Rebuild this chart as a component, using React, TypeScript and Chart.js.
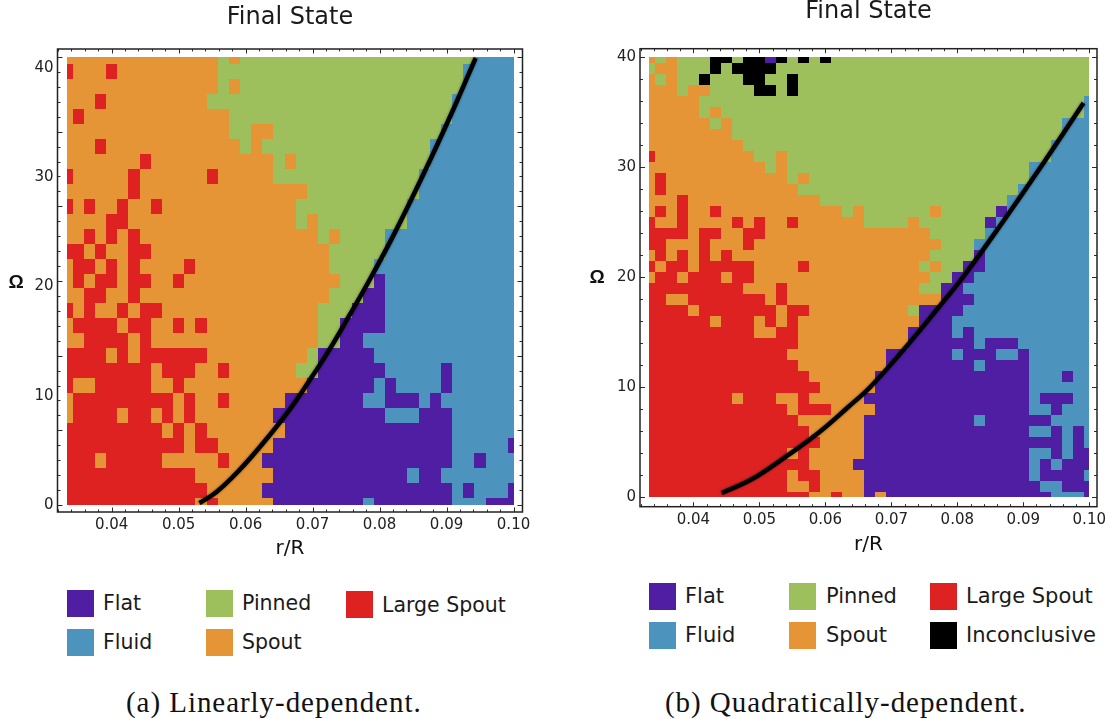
import React, { useEffect, useRef } from "react";
import { Chart, registerables } from "chart.js";

Chart.register(...registerables);

// Phase codes used in the run-length rows below
const stateCodes = ["F", "L", "P", "S", "R", "K"];
const stateNames = ["Flat", "Fluid", "Pinned", "Spout", "Large Spout", "Inconclusive"];
const stateColors = ["#4f1ea3", "#4c94be", "#9dbf5c", "#e69536", "#de2222", "#000000"];

// r/R grid: 41 columns shared by both panels
const radiusValues = Array.from({ length: 41 }, (_, i) => 1 / 30 + i / 600);

// Panel (a): rows from top (last omega) to bottom (omega 0)
const linearRows = [
  "S14P1S1P21L4", "R1S3R1S9P22L5", "S14P1S1P20L5", "S3R1S9P22L6", "S1R1S13P20L6",
  "S15P2S2P15L7", "S3R1S12P1S1P15L8", "S7R1S11P1S1P12L8", "R1S5R1S6R1S5P13L9", "S6R1S15P10L9",
  "R1S1R1S2R1S2R1S12P10L10", "S4R2S15P1S1P8L10", "S2R1S1R1S1R1S16P1S1P4L12", "R2S1R1S2R2S16P5L12",
  "S1R2S1R1S1R1S4R1S12P4L13", "S1R1S1R2S1R2S2R1S14P3F1L12", "S2R2S2R1S17P3F2L12",
  "R1S1R1S2R1S1R2S14P3F3L12", "S1R4S1R2S2R1S1R1S10P2F4L12", "S2R4S1R1S15P2F2L14",
  "R4S1R1S1R6S9P1F5L13", "R8S1R3S2R1S6P2F6L5F1L6", "R1S2R5S2R1S11F6L1F1L4F1L6",
  "S1R9S1R1S2R1S5F7L2F3L1F1L7", "S1R4S1R2S1R1S1R1S7F10L3F3L6", "R9S1R1S1R1S7F15L6",
  "R11S1R2S5F16L5F1", "R3S1R5S5R1S3F17L2F1L3", "R12S7F12L1F2L7", "R13S5F17L1F1L3F1",
  "R12S1R1S5F8L1F7L3F3",
];
const linearOmega = Array.from({ length: 31 }, (_, j) => (j * 41) / 30);

// Panel (b): rows from omega 40 down to omega 0
const quadraticRows = [
  "S1P1S1P3K2P1K2F1K1P1K1P1K1P24", "P1S2P3K1P1K4P29", "S1P1S1P2K1P3K2P2K1P27", "S3P1S2P4K2P1K1P27",
  "S5P35L1", "S5P1S1P33L1", "S6P1S1P30L3", "S8P30L3", "S9P28L4", "R1S9P2S1P24L4",
  "S11P1S1P22L6", "S1R1S11P1S1P20L6", "S1R1S12P20L7", "S3R1S12P17L8",
  "S1R1S1R1S2R1S11P1S1P6S1P5F1L8", "R1S2R1S4R1S1R1S2R1S6P4S1P6F1L9", "R4S1R2S2R2S15P5L10",
  "R2S3R1S3R1S17P3L11", "S1R1S1R1S1R1S1R1S18P4F1L10", "R1S1R2S1R5S4R1S10P1S1P2F2L10",
  "S1R2S1R3S1R2S16P2F2L11", "R9S3R1S12P2F2L12", "R2S2R7S1R1S14F3L11", "R4S1R7S1R2S9P1F4L12",
  "R6S1R3S1R1S1R1S11F3L13", "R10S2R2S10F4L1F1L11", "R14S10F6L1F3L7", "R13S9F6L1F3L2F1L6",
  "R14S8F8L1F4L6", "R15S6F14L3F1L2", "R16S5F14L6", "R8S1R3S2R1S5F15L1F3L2", "R13S1R3S4F14L2F1L3",
  "R14S6F10L1F6L4", "R15S5F15L2F1L1F1L1", "R16S4F18L1F1L1", "R13S1R1S5F15L2F1L1F2",
  "R15S4F16L1F1L1F3", "R13S1R2S4F15L1F4L1", "R13S2R1S4F16L2F3", "R15S2R1S2F1S1F15L3F1",
];
const quadraticOmega = Array.from({ length: 41 }, (_, j) => j);

// Black boundary curves
const linearCurveX = [0.05312, 0.05565, 0.05908, 0.0625, 0.06652, 0.06949, 0.07247, 0.07545, 0.07842, 0.08184, 0.08542, 0.08839, 0.09137, 0.09434];
const linearCurveY = [0.18, 1.19, 3.2, 5.58, 8.69, 11.35, 14.18, 17.3, 20.5, 24.4, 28.83, 32.67, 36.7, 40.9];
const quadraticCurveX = [0.0443, 0.0489, 0.05391, 0.05892, 0.06347, 0.06681, 0.07182, 0.07697, 0.08122, 0.08699, 0.09306, 0.09913];
const quadraticCurveY = [0.39, 1.66, 3.66, 5.85, 8.21, 10.03, 13.39, 17.12, 20.3, 25.12, 30.39, 35.85];

// Ticks
const xTickLabels = [0.04, 0.05, 0.06, 0.07, 0.08, 0.09, 0.1];
const yTickLabels = [0, 10, 20, 30, 40];
const xMarks = Array.from({ length: 35 }, (_, i) => 0.032 + i * 0.002);
const linearYMarks = linearOmega;
const quadraticYMarks = Array.from({ length: 21 }, (_, i) => i * 2);

const SANS = '"DejaVu Sans", sans-serif';

function expandRow(row: string): string[] {
  const out: string[] = [];
  for (const m of row.matchAll(/([A-Z])(\d+)/g)) {
    for (let i = 0; i < Number(m[2]); i++) out.push(m[1]);
  }
  return out;
}

function buildDatasets(rows: string[], omega: number[], curveX: number[], curveY: number[]) {
  const sets = stateCodes.map((code, k) => ({
    type: "scatter" as const,
    label: stateNames[k],
    data: [] as { x: number; y: number }[],
    backgroundColor: stateColors[k],
    borderColor: stateColors[k],
    pointRadius: 0,
    showLine: false,
    isCell: true,
    code,
  }));
  rows.forEach((row, r) => {
    const y = omega[omega.length - 1 - r];
    expandRow(row).forEach((code, c) => {
      sets[stateCodes.indexOf(code)].data.push({ x: radiusValues[c], y });
    });
  });
  return [
    ...sets,
    {
      type: "scatter" as const,
      label: "Boundary",
      data: curveX.map((x, i) => ({ x, y: curveY[i] })),
      borderColor: "#000000",
      backgroundColor: "#000000",
      borderWidth: 4.5,
      pointRadius: 0,
      showLine: true,
      tension: 0.4,
      isCell: false,
      code: "",
    },
  ];
}

const cellPlugin = {
  id: "cells",
  beforeDatasetsDraw(chart: any) {
    const { ctx, scales } = chart;
    const o = chart.options.plugins.cells;
    const xs = scales.x;
    const ys = scales.y;
    const dx = 1 / 600;
    const dy = o.dy;
    const xLo = radiusValues[0];
    const xHi = radiusValues[radiusValues.length - 1];
    ctx.save();
    chart.data.datasets.forEach((ds: any) => {
      if (!ds.isCell) return;
      ctx.fillStyle = ds.backgroundColor;
      ds.data.forEach((p: any) => {
        const l = Math.round(xs.getPixelForValue(Math.max(p.x - dx / 2, xLo)));
        const r = Math.round(xs.getPixelForValue(Math.min(p.x + dx / 2, xHi)));
        const t = Math.round(ys.getPixelForValue(Math.min(p.y + dy / 2, o.yHi)));
        const b = Math.round(ys.getPixelForValue(Math.max(p.y - dy / 2, 0)));
        ctx.fillRect(l, t, r - l, b - t);
      });
    });
    ctx.restore();
  },
  beforeDatasetDraw(chart: any, args: any) {
    if (chart.data.datasets[args.index].isCell) return;
    chart.ctx.save();
    chart.ctx.shadowColor = "rgba(0,0,0,0.55)";
    chart.ctx.shadowBlur = 2.5;
  },
  afterDatasetDraw(chart: any, args: any) {
    if (chart.data.datasets[args.index].isCell) return;
    chart.ctx.restore();
  },
  afterDraw(chart: any) {
    const { ctx, scales, chartArea: a } = chart;
    const o = chart.options.plugins.cells;
    ctx.save();
    ctx.strokeStyle = "#2b2b2b";
    ctx.lineWidth = 1;
    ctx.beginPath();
    xMarks.forEach((v, i) => {
      const px = Math.round(scales.x.getPixelForValue(v)) + 0.5;
      const len = i % 5 === 4 ? 4.5 : 2.5;
      ctx.moveTo(px, a.bottom);
      ctx.lineTo(px, a.bottom - len);
      ctx.moveTo(px, a.top);
      ctx.lineTo(px, a.top + len);
    });
    o.yMarks.forEach((v: number, i: number) => {
      const py = Math.round(scales.y.getPixelForValue(v)) + 0.5;
      const len = i % 5 === 0 ? 5 : 3;
      ctx.moveTo(a.left, py);
      ctx.lineTo(a.left + len, py);
      ctx.moveTo(a.right, py);
      ctx.lineTo(a.right - len, py);
    });
    ctx.stroke();
    ctx.lineWidth = 1.5;
    ctx.strokeStyle = "#222222";
    ctx.strokeRect(a.left, a.top, a.right - a.left, a.bottom - a.top);
    // upright axis symbol
    ctx.fillStyle = "#111111";
    ctx.font = 'bold 19px "Liberation Sans", sans-serif';
    ctx.textAlign = "center";
    ctx.textBaseline = "middle";
    ctx.fillText("Ω", o.omegaX, scales.y.getPixelForValue(o.omegaAt));
    ctx.restore();
  },
};

type PanelProps = {
  left: number;
  top: number;
  width: number;
  height: number;
  rows: string[];
  omega: number[];
  curveX: number[];
  curveY: number[];
  yMarks: number[];
  dy: number;
  xMin: number;
  xMax: number;
  yMin: number;
  yMax: number;
  yWidth: number;
  padRight: number;
  padTop: number;
  titleBottom: number;
  xHeight: number;
  omegaX: number;
  omegaAt: number;
};

function Panel(p: PanelProps) {
  const ref = useRef<HTMLCanvasElement>(null);
  useEffect(() => {
    const chart = new Chart(ref.current as HTMLCanvasElement, {
      type: "scatter",
      data: { datasets: buildDatasets(p.rows, p.omega, p.curveX, p.curveY) as any },
      plugins: [cellPlugin as any],
      options: {
        animation: false,
        responsive: false,
        layout: { autoPadding: false, padding: { top: p.padTop, right: p.padRight, left: 0, bottom: 0 } },
        plugins: {
          legend: { display: false },
          tooltip: { enabled: false },
          title: {
            display: true,
            text: "Final State",
            fullSize: false,
            color: "#1a1a1a",
            font: { family: SANS, size: 24, weight: "normal", lineHeight: 1 },
            padding: { top: 0, bottom: p.titleBottom },
          },
          cells: { dy: p.dy, yHi: p.omega[p.omega.length - 1], yMarks: p.yMarks, omegaX: p.omegaX, omegaAt: p.omegaAt },
        } as any,
        scales: {
          x: {
            type: "linear",
            min: p.xMin,
            max: p.xMax,
            afterBuildTicks: (s: any) => {
              s.ticks = xTickLabels.map((value) => ({ value }));
            },
            afterFit: (s: any) => {
              s.height = p.xHeight;
            },
            grid: { display: false, drawTicks: false },
            border: { display: false },
            ticks: {
              autoSkip: false,
              maxRotation: 0,
              padding: 4,
              color: "#222222",
              font: { family: SANS, size: 15 },
              callback: (v: any) => Number(v).toFixed(2),
            },
            title: { display: true, text: "r/R", color: "#111111", font: { family: SANS, size: 20 }, padding: 0 },
          },
          y: {
            type: "linear",
            min: p.yMin,
            max: p.yMax,
            afterBuildTicks: (s: any) => {
              s.ticks = yTickLabels.map((value) => ({ value }));
            },
            afterFit: (s: any) => {
              s.width = p.yWidth;
            },
            grid: { display: false, drawTicks: false },
            border: { display: false },
            ticks: {
              autoSkip: false,
              padding: 4,
              color: "#222222",
              font: { family: SANS, size: 15 },
            },
          },
        },
      },
    });
    return () => chart.destroy();
  }, []);
  return (
    <canvas
      ref={ref}
      width={p.width}
      height={p.height}
      style={{ position: "absolute", left: p.left, top: p.top, width: p.width, height: p.height }}
    />
  );
}

const legendA = [
  { name: 0, sx: 67, sy: 590, tx: 103, ty: 603 },
  { name: 1, sx: 67, sy: 629, tx: 103, ty: 642 },
  { name: 2, sx: 206, sy: 590, tx: 242, ty: 603 },
  { name: 3, sx: 206, sy: 629, tx: 242, ty: 642 },
  { name: 4, sx: 346, sy: 591, tx: 382, ty: 605 },
];
const legendB = [
  { name: 0, sx: 649, sy: 583, tx: 685, ty: 596 },
  { name: 1, sx: 649, sy: 622, tx: 685, ty: 635 },
  { name: 2, sx: 789, sy: 583, tx: 826, ty: 596 },
  { name: 3, sx: 789, sy: 622, tx: 826, ty: 635 },
  { name: 4, sx: 930, sy: 583, tx: 966, ty: 596 },
  { name: 5, sx: 930, sy: 622, tx: 966, ty: 635 },
];

function Legend({ items, size }: { items: typeof legendA; size: number }) {
  return (
    <>
      {items.map((it) => (
        <React.Fragment key={it.name}>
          <div
            style={{
              position: "absolute",
              left: it.sx,
              top: it.sy,
              width: 27,
              height: 27,
              background: stateColors[it.name],
            }}
          />
          <div
            style={{
              position: "absolute",
              left: it.tx,
              top: it.ty - 14,
              height: 28,
              lineHeight: "28px",
              fontFamily: SANS,
              fontSize: size,
              color: "#1a1a1a",
              whiteSpace: "nowrap",
            }}
          >
            {stateNames[it.name]}
          </div>
        </React.Fragment>
      ))}
    </>
  );
}

function Caption({ left, text }: { left: number; text: string }) {
  return (
    <div
      style={{
        position: "absolute",
        left,
        top: 686,
        height: 32,
        lineHeight: "32px",
        fontFamily: '"Liberation Serif", serif',
        fontSize: 29,
        letterSpacing: "0.95px",
        color: "#111111",
        whiteSpace: "nowrap",
      }}
    >
      {text}
    </div>
  );
}

export default function App() {
  return (
    <div style={{ position: "fixed", left: 0, top: 0, width: 1111, height: 719, background: "#ffffff", overflow: "hidden" }}>
      <Panel
        left={0}
        top={0}
        width={555}
        height={561}
        rows={linearRows}
        omega={linearOmega}
        curveX={linearCurveX}
        curveY={linearCurveY}
        yMarks={linearYMarks}
        dy={41 / 30}
        xMin={0.03192}
        xMax={0.10134}
        yMin={-0.64}
        yMax={41.73}
        yWidth={57.5}
        padRight={32.5}
        padTop={6}
        titleBottom={19}
        xHeight={49}
        omegaX={16}
        omegaAt={20.3}
      />
      <Panel
        left={580}
        top={0}
        width={531}
        height={557}
        rows={quadraticRows}
        omega={quadraticOmega}
        curveX={quadraticCurveX}
        curveY={quadraticCurveY}
        yMarks={quadraticYMarks}
        dy={1}
        xMin={0.03191}
        xMax={0.10117}
        yMin={-0.855}
        yMax={40.78}
        yWidth={60}
        padRight={14}
        padTop={0}
        titleBottom={24.7}
        xHeight={50.3}
        omegaX={17}
        omegaAt={20}
      />
      <Legend items={legendA} size={20.5} />
      <Legend items={legendB} size={21} />
      <Caption left={126} text="(a) Linearly-dependent." />
      <Caption left={665} text="(b) Quadratically-dependent." />
    </div>
  );
}
